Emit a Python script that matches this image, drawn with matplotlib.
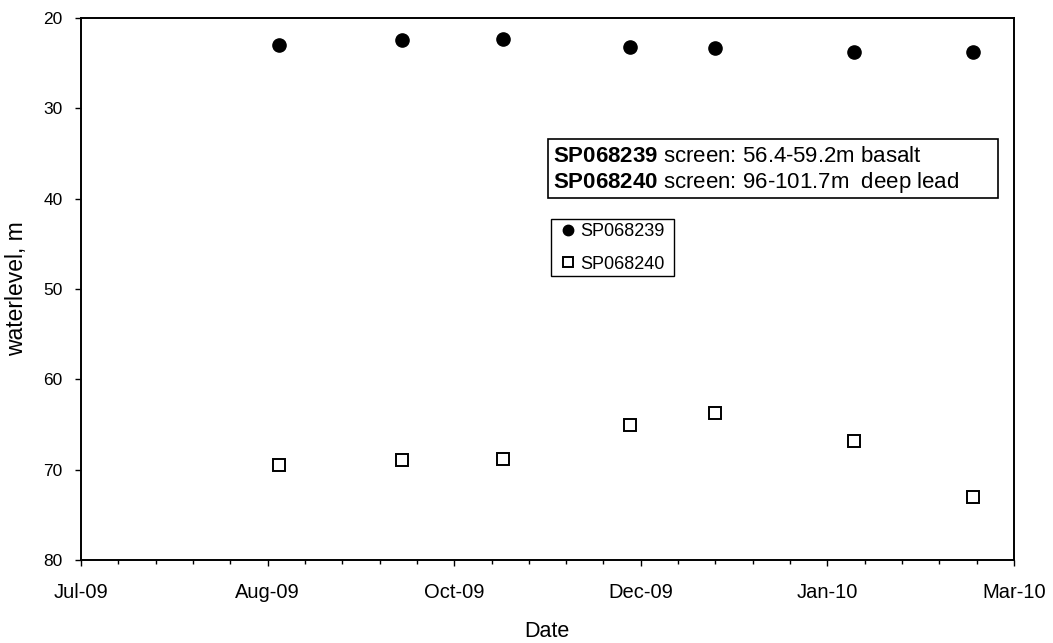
import datetime
import matplotlib
matplotlib.use('Agg')
import matplotlib.pyplot as plt
import matplotlib.dates as mdates
from matplotlib.patches import Rectangle

plt.rcParams['font.family'] = ['Liberation Sans', 'DejaVu Sans']
plt.rcParams['mathtext.fontset'] = 'custom'
plt.rcParams['mathtext.rm'] = 'Liberation Sans'
plt.rcParams['mathtext.bf'] = 'Liberation Sans:bold'

# sample dates and water levels (m below ground)
dates = [datetime.date(2009, 8, 28), datetime.date(2009, 9, 30), datetime.date(2009, 10, 27),
         datetime.date(2009, 11, 30), datetime.date(2009, 12, 23), datetime.date(2010, 1, 29),
         datetime.date(2010, 3, 2)]
sp068239 = [23.0, 22.45, 22.35, 23.25, 23.3, 23.75, 23.75]
sp068240 = [69.5, 68.9, 68.8, 65.1, 63.75, 66.8, 73.05]
names = ['SP068239', 'SP068240']

fig = plt.figure(figsize=(10.53, 6.43), dpi=100)
ax = fig.add_axes([81/1053, 83/643, 933/1053, 542/643])

ax.plot(dates, sp068239, 'o', color='black', markersize=9.5, linestyle='none')
ax.plot(dates, sp068240, 's', markerfacecolor='white', markeredgecolor='black', markeredgewidth=1.4,
        markersize=8, linestyle='none')

# excel-style axis: serial 40000 .. 40250, major 50 days, minor 10 days
start = datetime.date(2009, 7, 6)
ax.set_xlim(start, start + datetime.timedelta(days=250))
ax.set_xticks([start + datetime.timedelta(days=50 * i) for i in range(6)])
ax.set_xticks([start + datetime.timedelta(days=10 * i) for i in range(26)], minor=True)
ax.xaxis.set_major_formatter(mdates.DateFormatter('%b-%y'))

ax.set_ylim(80, 20)
ax.set_yticks(range(20, 81, 10))

ax.tick_params(axis='x', which='major', direction='out', length=4.3, width=1, labelsize=14.5, pad=12.5)
ax.tick_params(axis='y', which='major', direction='out', length=4.3, width=1, labelsize=12.5, pad=8.9)
ax.tick_params(axis='x', which='minor', direction='out', length=2.9, width=1)
for s in ax.spines.values():
    s.set_linewidth(1.4)

fig.text(547/1053, (643-636.7)/643, 'Date', fontsize=15.5, ha='center', va='baseline')
fig.text(17/1053, (643-289)/643, 'waterlevel, m', fontsize=16.5, ha='center', va='center', rotation=90)

# screen info box
ax.add_patch(Rectangle((0.5005, 0.668), 0.482, 0.109, transform=ax.transAxes,
                       facecolor='white', edgecolor='black', linewidth=1.2))
ax.text(0.5056, 0.735, r'$\bf{SP068239}$ screen: 56.4-59.2m basalt', transform=ax.transAxes,
        fontsize=16, va='baseline', ha='left')
ax.text(0.5056, 0.686, r'$\bf{SP068240}$ screen: 96-101.7m  deep lead', transform=ax.transAxes,
        fontsize=16, va='baseline', ha='left')

# legend box, drawn Excel-style
ax.add_patch(Rectangle((0.5034, 0.524), 0.1325, 0.1046, transform=ax.transAxes,
                       facecolor='white', edgecolor='black', linewidth=1.0))
ax.plot([0.522], [0.6094], 'o', color='black', markersize=7.5, transform=ax.transAxes, clip_on=False)
ax.plot([0.522], [0.5489], 's', markerfacecolor='white', markeredgecolor='black', markeredgewidth=1.4,
        markersize=6.5, transform=ax.transAxes, clip_on=False)
ax.text(0.5348, 0.5978, names[0], transform=ax.transAxes, fontsize=13, va='baseline', ha='left')
ax.text(0.5348, 0.5369, names[1], transform=ax.transAxes, fontsize=13, va='baseline', ha='left')

fig.savefig('out.png', dpi=100)
